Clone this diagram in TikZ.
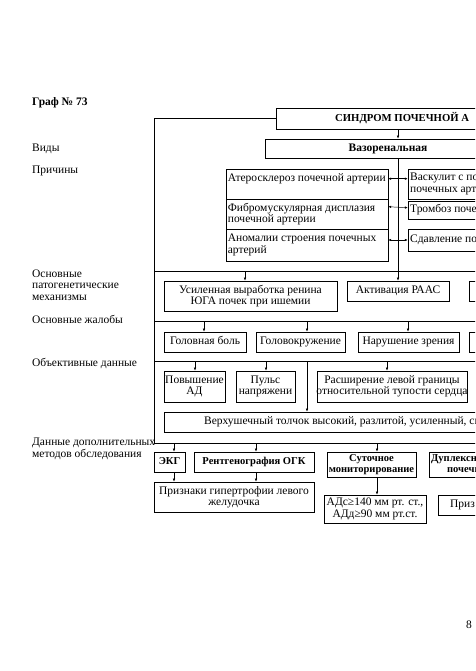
\documentclass[tikz,border=0pt]{standalone}
\usepackage{fontspec}
\setmainfont{Liberation Serif}
\usetikzlibrary{arrows.meta,fit,calc,positioning}

\tikzset{
  cell/.style={draw, line width=0.7pt, inner sep=0pt},
  txt/.style={align=center, inner sep=0pt},
  one/.style={txt, text height=9.6pt, text depth=3pt},
  lbl/.style={anchor=west, inner sep=0pt, align=left},
  hdr/.style={font=\fontsize{14.4}{14.4}\selectfont\bfseries},
  meth/.style={font=\fontsize{13.2}{13.6}\selectfont\bfseries},
  frame/.style={line width=0.9pt},
  flow/.style={-{Latex[length=4pt,width=3.2pt]}, line width=0.7pt},
  both/.style={{Latex[length=3.5pt,width=3pt]}-{Latex[length=3.5pt,width=3pt]}, line width=0.6pt}
}

\begin{document}
\begin{tikzpicture}[x=1.2527pt, y=-1.2527pt, font=\fontsize{14.4}{14.4}\selectfont]
\useasboundingbox (0,0) rectangle (475,671);
\clip (0,0) rectangle (475,671);

% подписи слева
\node[lbl, hdr] (graf) at (32,103) {Граф № 73};
\node[lbl] (lvid) at (32,149) {Виды};
\node[lbl] (lcause) at (32,171) {Причины};
\node[lbl] (lmech) at (32,285) {Основные\\патогенетические\\механизмы};
\node[lbl] (lcompl) at (32,319) {Основные жалобы};
\node[lbl] (lobj) at (32,363) {Объективные данные};
\node[lbl] (lexam) at (32,449) {Данные дополнительных\\методов обследования};
\node[lbl] (page) at (466,625) {8};

% заголовок и виды
\node[cell, fit={(276,108) (560,129)}] (synd) {};
\node[lbl, font=\fontsize{13.4}{14}\selectfont\bfseries] at (335,118.5) {СИНДРОМ ПОЧЕЧНОЙ А};
\node[cell, fit={(265,139) (511,158)}] (vaso) {};
\node[one, hdr] at (vaso) {Вазоренальная};

% рамка
\coordinate (ftop) at (154,118);
\coordinate (fbot) at (154,443);
\draw[frame] (synd.west |- ftop) -- (ftop) -- (fbot) -- (560,443);
\draw[frame] (154,271) -- (560,271);
\draw[frame] (154,321) -- (560,321);
\draw[frame] (154,361) -- (560,361);

% причины
\node[cell, fit={(226,169) (388,199)}] (ather) {};
\node[lbl] at ($(ather.north west)+(2,10)$) {Атеросклероз почечной артерии};
\node[cell, fit={(226,199) (388,229)}] (fibro) {};
\node[lbl] at ($(fibro.west)+(2,0)$) {Фибромускулярная дисплазия\\почечной артерии};
\node[cell, fit={(226,229) (388,261)}] (anom) {};
\node[lbl] at ($(anom.west)+(2,0)$) {Аномалии строения почечных\\артерий};
\node[cell, fit={(408,169) (560,199)}] (vasc) {};
\node[lbl] at (410,184) {Васкулит с по\\почечных арт};
\node[cell, fit={(408,201) (560,219)}] (thromb) {};
\node[lbl] at (410,210) {Тромбоз поче};
\node[cell, fit={(408,229) (560,251)}] (compr) {};
\node[lbl] at (410,240) {Сдавление по};

\coordinate (trunk) at (398,271);
\draw[flow] (synd.south -| trunk) -- (vaso.north -| trunk);
\draw[frame] (vaso.south -| trunk) -- (trunk);
\draw[both] ($(ather.north east)+(0,10)$) -- ($(vasc.north west)+(0,10)$);
\draw[both] ($(fibro.north east)+(0,8)$) -- ($(thromb.north west)+(0,7)$);
\draw[both] (anom.east |- compr.west) -- (compr.west);

% механизмы
\node[cell, fit={(164,281) (337,311)}] (renin) {};
\node[txt] at (renin) {Усиленная выработка ренина\\ЮГА почек при ишемии};
\node[cell, fit={(347,281) (449,301)}] (raas) {};
\node[one] at (raas) {Активация РААС};
\node[cell, fit={(469,281) (560,301)}] (mech) {};
\coordinate (m1) at (245,271);
\draw[flow] (m1) -- (m1 |- renin.north);
\draw[flow] (trunk) -- (trunk |- raas.north);

% жалобы
\node[cell, fit={(164,332) (246,352)}] (head) {};
\node[one] at (head) {Головная боль};
\node[cell, fit={(256,332) (345,352)}] (dizzy) {};
\node[one] at (dizzy) {Головокружение};
\node[cell, fit={(358,332) (459,352)}] (vision) {};
\node[one] at (vision) {Нарушение зрения};
\node[cell, fit={(469,332) (560,352)}] (compl) {};
\coordinate (c1) at (204,321);
\coordinate (c2) at (307,321);
\coordinate (c3) at (408,321);
\draw[flow] (c1) -- (c1 |- head.north);
\draw[flow] (c2) -- (c2 |- dizzy.north);
\draw[flow] (c3) -- (c3 |- vision.north);

% объективные данные
\node[cell, fit={(164,371) (225,402)}] (bp) {};
\node[txt] at (bp) {Повышение\\АД};
\node[cell, fit={(236,371) (295,402)}] (pulse) {};
\node[txt] at (pulse) {Пульс\\напряжени};
\node[cell, fit={(317,371) (467,402)}] (border) {};
\node[txt] at (border) {Расширение левой границы\\относительной тупости сердца};
\node[cell, fit={(164,412) (560,432)}] (apex) {};
\node[lbl] at (204,422) {Верхушечный толчок высокий, разлитой, усиленный, см};
\coordinate (o1) at (195,361);
\coordinate (o2) at (266,361);
\coordinate (o3) at (307,361);
\coordinate (o4) at (387,361);
\draw[flow] (o1) -- (o1 |- bp.north);
\draw[flow] (o2) -- (o2 |- pulse.north);
\draw[flow] (o3) -- (o3 |- apex.north);
\draw[flow] (o4) -- (o4 |- border.north);

% дополнительные методы
\node[cell, fit={(154,452) (185,472)}] (ecg) {};
\node[one, meth] at (ecg) {ЭКГ};
\node[cell, fit={(194,452) (314,472)}] (xray) {};
\node[one, meth] at (xray) {Рентгенография ОГК};
\node[cell, fit={(154,482) (314,512)}] (lvh) {};
\node[txt] at (lvh) {Признаки гипертрофии левого\\желудочка};
\node[cell, fit={(327,452) (416,477)}] (holter) {};
\node[txt, meth] at (holter) {Суточное\\мониторирование};
\node[cell, fit={(324,495) (426,523)}] (bpval) {};
\node[txt] at (bpval) {АДс≥140 мм рт. ст.,\\АДд≥90 мм рт.ст.};
\node[cell, fit={(429,452) (560,477)}] (duplex) {};
\node[lbl, meth] at (431,459) {Дуплексн};
\node[lbl, meth] at (447,470) {почечн};
\node[cell, fit={(438,495) (560,515)}] (signs) {};
\node[lbl] at (450,505) {Приз};
\coordinate (d1) at (174,443);
\coordinate (d2) at (256,443);
\coordinate (d3) at (377,443);
\draw[flow] (d1) -- (d1 |- ecg.north);
\draw[flow] (d2) -- (d2 |- xray.north);
\draw[flow] (d3) -- (d3 |- holter.north);
\draw[flow] (ecg.south -| d1) -- (lvh.north -| d1);
\draw[flow] (xray.south -| d2) -- (lvh.north -| d2);
\draw[flow] (holter.south -| d3) -- (bpval.north -| d3);
\end{tikzpicture}
\end{document}
